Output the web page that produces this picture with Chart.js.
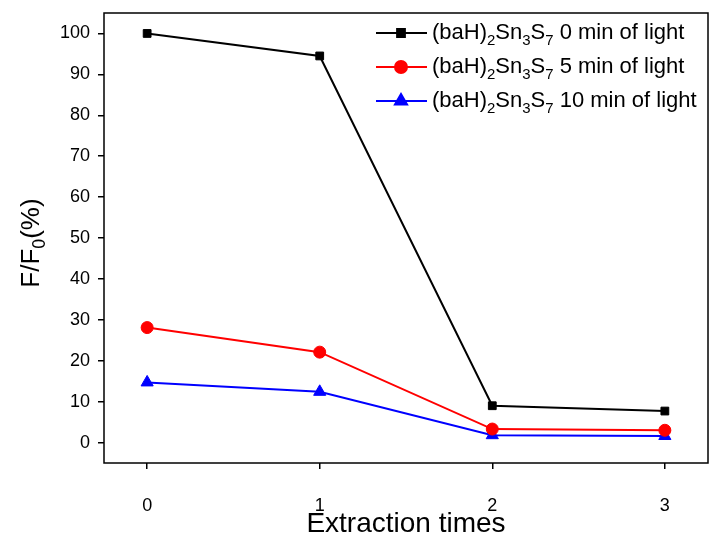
<!DOCTYPE html>
<html>
<head>
<meta charset="utf-8">
<script src="https://cdn.jsdelivr.net/npm/chart.js@4.4.0/dist/chart.umd.min.js"></script>
<style>
  html, body { margin: 0; padding: 0; background: #fff; overflow: hidden; }
  #wrap { width: 716px; height: 541px; }
</style>
</head>
<body>
<div id="wrap"><canvas id="chart"></canvas></div>
<script>
// Extraction times (x) and F/F0 values (%)
const extractionTimes = [0, 1, 2, 3];
const light0min = [100, 94.5, 9.0, 7.7];
const light5min = [28.1, 22.1, 3.3, 3.0];
const light10min = [14.7, 12.4, 1.8, 1.6];
const seriesNames = ['0 min of light', '5 min of light', '10 min of light'];
const yTicks = [0, 10, 20, 30, 40, 50, 60, 70, 80, 90, 100];

const FONT = '"Liberation Sans", Arial, sans-serif';

function toPoints(values) {
    return extractionTimes.map((x, i) => ({ x: x, y: values[i] }));
}

// draws "(baH)2Sn3S7 ..." with real subscripts
function drawFormula(ctx, x, y, size, rest) {
    const parts = [['(baH)', 0], ['2', 1], ['Sn', 0], ['3', 1], ['S', 0], ['7', 1], [' ' + rest, 0]];
    parts.forEach(([txt, sub]) => {
        const s = sub ? size * 0.68 : size;
        ctx.font = s + 'px ' + FONT;
        ctx.fillText(txt, x, y + (sub ? size * 0.36 : 0));
        x += ctx.measureText(txt).width;
    });
}

const decorations = {
    id: 'decorations',
    afterDraw(chart) {
        const ctx = chart.ctx;
        const a = chart.chartArea;
        ctx.save();
        // frame
        ctx.strokeStyle = '#000';
        ctx.lineWidth = 1.5;
        ctx.strokeRect(a.left, a.top, a.right - a.left, a.bottom - a.top);

        // y title F/F0(%)
        ctx.fillStyle = '#000';
        ctx.translate(32, 243);
        ctx.rotate(-Math.PI / 2);
        ctx.textBaseline = 'middle';
        const size = 26;
        const parts = [['F/F', 0], ['0', 1], ['(%)', 0]];
        let w = 0;
        parts.forEach(([t, sub]) => {
            ctx.font = (sub ? size * 0.68 : size) + 'px ' + FONT;
            w += ctx.measureText(t).width;
        });
        let px = -w / 2;
        parts.forEach(([t, sub]) => {
            ctx.font = (sub ? size * 0.68 : size) + 'px ' + FONT;
            ctx.fillText(t, px, sub ? size * 0.32 : 0);
            px += ctx.measureText(t).width;
        });
        ctx.restore();

        // legend
        ctx.save();
        ctx.textBaseline = 'middle';
        ctx.fillStyle = '#000';
        chart.data.datasets.forEach((ds, i) => {
            const y = 33 + i * 34;
            ctx.strokeStyle = ds.borderColor;
            ctx.lineWidth = 2;
            ctx.beginPath();
            ctx.moveTo(376, y);
            ctx.lineTo(427, y);
            ctx.stroke();
            ctx.fillStyle = ds.backgroundColor;
            ctx.strokeStyle = ds.borderColor;
            Chart.helpers.drawPoint(ctx, {
                pointStyle: ds.pointStyle, radius: ds.pointRadius, borderWidth: 1
            }, 401, y);
            ctx.fillStyle = '#000';
            drawFormula(ctx, 432, y, 22, seriesNames[i]);
        });
        ctx.restore();
    }
};

const datasetStyles = [
    { color: '#000000', style: 'rect', r: 5.5 },
    { color: '#ff0000', style: 'circle', r: 6 },
    { color: '#0000ff', style: 'triangle', r: 7 }
];
const allSeries = [light0min, light5min, light10min];

new Chart(document.getElementById('chart'), {
    type: 'line',
    data: {
        datasets: allSeries.map((vals, i) => ({
            label: seriesNames[i],
            data: toPoints(vals),
            borderColor: datasetStyles[i].color,
            backgroundColor: datasetStyles[i].color,
            borderWidth: 2,
            pointStyle: datasetStyles[i].style,
            pointRadius: datasetStyles[i].r,
            pointBorderWidth: 1,
            tension: 0
        }))
    },
    options: {
        responsive: true,
        maintainAspectRatio: false,
        animation: false,
        layout: { padding: { top: 13, right: 2, left: 0, bottom: 0 } },
        plugins: {
            legend: { display: false },
            tooltip: { enabled: false }
        },
        scales: {
            x: {
                type: 'linear',
                min: -0.25,
                max: 3.25,
                afterBuildTicks: s => { s.ticks = extractionTimes.map(v => ({ value: v })); },
                afterFit: s => {
                    s.height = 78;
                    s.paddingLeft = 0;
                    s.paddingRight = 0;
                },
                grid: { drawOnChartArea: false, tickLength: 6, color: '#000', lineWidth: 1.5 },
                border: { display: false },
                ticks: { color: '#000', font: { family: FONT, size: 18 }, padding: 26 },
                title: {
                    display: true,
                    text: 'Extraction times',
                    color: '#000',
                    font: { family: FONT, size: 28 },
                    padding: { top: 3, bottom: 0 }
                }
            },
            y: {
                min: -5,
                max: 105,
                afterBuildTicks: s => { s.ticks = yTicks.map(v => ({ value: v })); },
                afterFit: s => {
                    s.width = 104;
                    s.paddingTop = 0;
                    s.paddingBottom = 0;
                },
                grid: { drawOnChartArea: false, tickLength: 6, color: '#000', lineWidth: 1.5 },
                border: { display: false },
                ticks: { color: '#000', font: { family: FONT, size: 18 }, padding: 8 }
            }
        }
    },
    plugins: [decorations]
});
</script>
</body>
</html>
